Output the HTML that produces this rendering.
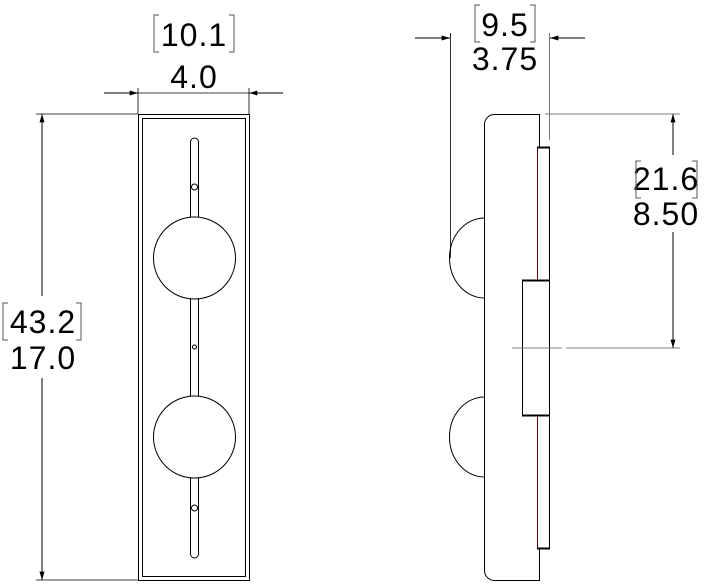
<!DOCTYPE html>
<html><head><style>html,body{margin:0;padding:0;background:#fff}svg{display:block}</style></head>
<body>
<svg width="715" height="585" viewBox="0 0 715 585" xmlns="http://www.w3.org/2000/svg" font-family="Liberation Sans, sans-serif">
<defs>
<marker id="a" viewBox="0 0 10 6" refX="10" refY="3" markerWidth="14" markerHeight="5" orient="auto" markerUnits="userSpaceOnUse"><path d="M0,0L10,3L0,6z" fill="#000"/></marker>
</defs>
<g stroke="#000" stroke-width="1" fill="none">
<rect x="138.5" y="114.5" width="111" height="466"/>
<line x1="142.5" y1="118" x2="142.5" y2="577"/>
<line x1="245.5" y1="118" x2="245.5" y2="577"/>
<line x1="142" y1="118.5" x2="246" y2="118.5"/>
<line x1="142" y1="576.5" x2="246" y2="576.5"/>
<path d="M190.5,142 A4,4 0 0 1 198.5,142 L198.5,554 A4,4 0 0 1 190.5,554 Z" fill="#fff"/>
<circle cx="194.5" cy="258" r="41" fill="#fff"/>
<circle cx="194.5" cy="437" r="41" fill="#fff"/>
<circle cx="194.5" cy="187" r="3"/>
<circle cx="194.5" cy="347" r="2"/>
<circle cx="194.5" cy="508" r="3"/>
<line x1="138" y1="88" x2="138" y2="114" stroke-width="0.8"/>
<line x1="249" y1="88" x2="249" y2="114" stroke-width="0.8"/>
<line x1="104" y1="93" x2="138" y2="93" marker-end="url(#a)"/>
<line x1="283" y1="93" x2="249" y2="93" marker-end="url(#a)"/>
<line x1="138" y1="93" x2="249" y2="93" stroke-width="0.8"/>
<line x1="36" y1="114" x2="138" y2="114" stroke-width="0.8"/>
<line x1="36" y1="580" x2="138" y2="580" stroke-width="0.8"/>
<line x1="42" y1="296" x2="42" y2="114" marker-end="url(#a)"/>
<line x1="42" y1="378" x2="42" y2="580" marker-end="url(#a)"/>
<path d="M539.5,114.5 L494,114.5 A10,10 0 0 0 484.5,124 L484.5,570 A10,10 0 0 0 494,580.5 L539.5,580.5 L539.5,548.5 L537.5,548.5 L537.5,147.5 L539.5,147.5 Z"/>
<rect x="537.5" y="147.5" width="12" height="401"/>
<line x1="537.5" y1="148" x2="537.5" y2="548" stroke="#600"/>
<rect x="522.5" y="280.5" width="27" height="135" fill="#fff"/>
<line x1="537" y1="147.5" x2="550" y2="147.5" stroke-width="2"/>
<line x1="537" y1="548.5" x2="550" y2="548.5" stroke-width="2"/>
<line x1="522" y1="280.5" x2="550" y2="280.5" stroke-width="2"/>
<line x1="522" y1="415.5" x2="550" y2="415.5" stroke-width="2"/>
<path d="M484.5,218 A35,40 0 0 0 484.5,298"/>
<path d="M484.5,397 A35,40 0 0 0 484.5,477"/>
<line x1="450.5" y1="33" x2="450.5" y2="258" stroke-width="0.8"/>
<line x1="549.5" y1="33" x2="549.5" y2="140" stroke="#555" stroke-width="0.8"/>
<line x1="415" y1="38" x2="450" y2="38" marker-end="url(#a)"/>
<line x1="585" y1="38" x2="550" y2="38" marker-end="url(#a)"/>
<line x1="545" y1="114" x2="680" y2="114" stroke="#555" stroke-width="0.8"/>
<line x1="512" y1="348" x2="562" y2="348" stroke="#555" stroke-width="0.8"/>
<line x1="566" y1="348" x2="680" y2="348" stroke="#555" stroke-width="0.8"/>
<line x1="673" y1="155" x2="673" y2="114" marker-end="url(#a)"/>
<line x1="673" y1="232" x2="673" y2="348" marker-end="url(#a)"/>
</g>
<g font-size="32" fill="#000" text-anchor="middle" letter-spacing="1">
<text x="194" y="46">10.1</text>
<text x="194" y="88">4.0</text>
<text x="43" y="333">43.2</text>
<text x="43" y="369">17.0</text>
<text x="505" y="36">9.5</text>
<text x="505" y="70">3.75</text>
<text x="666" y="190">21.6</text>
<text x="666" y="225">8.50</text>
</g>
<g stroke="#555" stroke-width="1" fill="none">
<path d="M159,15H154V52H159"/><path d="M229,15H234V52H229"/>
<path d="M8,303H3V340H8"/><path d="M76,303H81V340H76"/>
<path d="M480,5H475V42H480"/><path d="M530,5H535V42H530"/>
<path d="M641,161H636V198H641"/><path d="M692,161H697V198H692"/>
</g>
</svg>
</body></html>
